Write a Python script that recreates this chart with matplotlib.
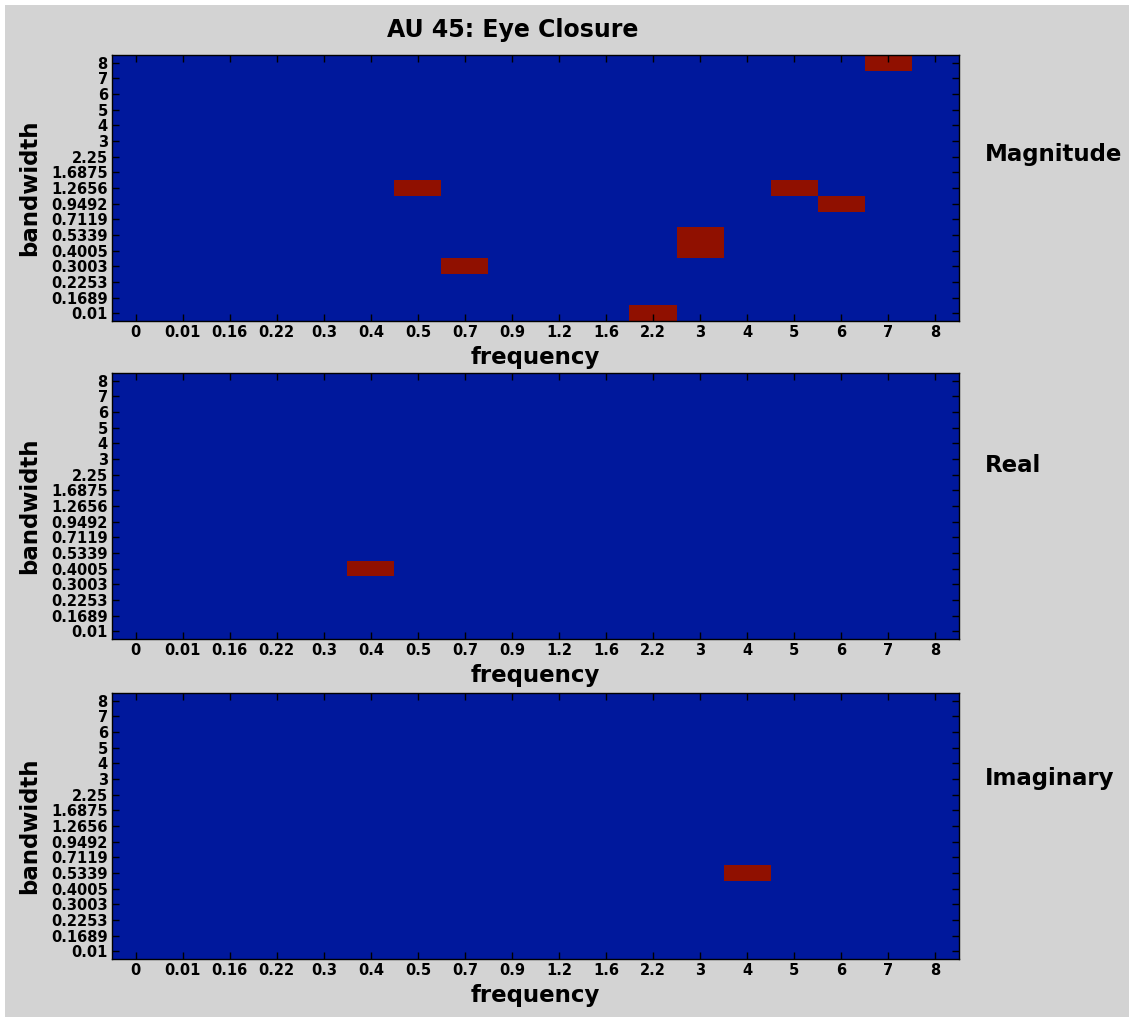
import numpy as np
import matplotlib
matplotlib.use("Agg")
import matplotlib.pyplot as plt
from matplotlib.colors import ListedColormap
from matplotlib.patches import Rectangle

# Axis categories
freq_labels = ["0", "0.01", "0.16", "0.22", "0.3", "0.4", "0.5", "0.7", "0.9",
               "1.2", "1.6", "2.2", "3", "4", "5", "6", "7", "8"]
bw_labels = ["0.01", "0.1689", "0.2253", "0.3003", "0.4005", "0.5339", "0.7119",
             "0.9492", "1.2656", "1.6875", "2.25", "3", "4", "5", "6", "7", "8"]

# Selected (frequency, bandwidth) features for each component
magnitude_hits = [("7", "8"), ("0.5", "1.2656"), ("5", "1.2656"), ("6", "0.9492"),
                  ("3", "0.5339"), ("3", "0.4005"), ("0.7", "0.3003"), ("2.2", "0.01")]
real_hits = [("0.4", "0.4005")]
imag_hits = [("4", "0.5339")]

panel_names = ["Magnitude", "Real", "Imaginary"]
panel_hits = [magnitude_hits, real_hits, imag_hits]

BG = "#d3d3d3"
cmap = ListedColormap(["#00189c", "#901000"])
plt.rcParams["font.family"] = "DejaVu Sans"
plt.rcParams["font.weight"] = "bold"


def build_grid(hits):
    grid = np.zeros((len(bw_labels), len(freq_labels)))
    for f, b in hits:
        grid[bw_labels.index(b), freq_labels.index(f)] = 1
    return grid


W, H = 1129, 1017
fig = plt.figure(figsize=(W / 100, H / 100), dpi=100, facecolor="white")
# grey window area, leaving a thin white strip along the top and left
fig.patches.append(Rectangle((5 / W, -0.1), 2, 1.1 - 5 / H, transform=fig.transFigure,
                             facecolor=BG, edgecolor="none", zorder=-10))

left, right = 112, 959
tops = [55, 373, 693]
panel_h = 266
label_y = [155, 466, 779]

for top, name, hits, ly in zip(tops, panel_names, panel_hits, label_y):
    ax = fig.add_axes([left / W, 1 - (top + panel_h) / H, (right - left) / W, panel_h / H])
    ax.imshow(build_grid(hits), cmap=cmap, vmin=0, vmax=1, origin="lower",
              aspect="auto", interpolation="nearest")
    ax.set_xticks(range(len(freq_labels)))
    ax.set_xticklabels(freq_labels, fontsize=10.5, fontweight="bold")
    ax.set_yticks(range(len(bw_labels)))
    ax.set_yticklabels(bw_labels, fontsize=10.5, fontweight="bold")
    ax.tick_params(direction="in", top=True, right=True, length=5, width=1,
                   pad=3, color="black")
    ax.set_xlabel("frequency", fontsize=16.5, fontweight="bold", labelpad=4)
    ax.set_ylabel("bandwidth", fontsize=16.5, fontweight="bold", labelpad=7)
    for s in ax.spines.values():
        s.set_linewidth(1)
    fig.text(985 / W, 1 - ly / H, name, fontsize=16.5, fontweight="bold",
             ha="left", va="center")

fig.text(513 / W, 1 - 30 / H, "AU 45: Eye Closure", fontsize=17,
         fontweight="bold", ha="center", va="center")

fig.savefig("out.png", dpi=100, facecolor=fig.get_facecolor())
